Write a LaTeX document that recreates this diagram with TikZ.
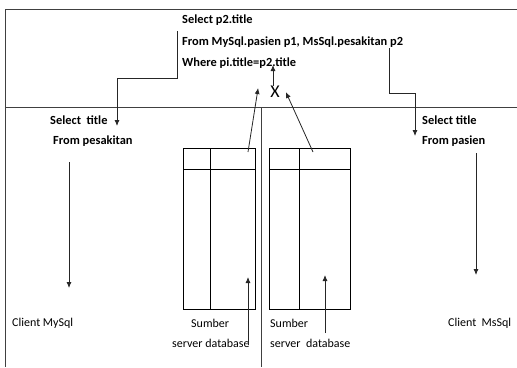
\documentclass[tikz,border=0pt]{standalone}
\usepackage{fontspec}
\setmainfont{Carlito}
\usetikzlibrary{positioning, calc, arrows.meta}
\tikzset{query/.style={font=\fontsize{12.4}{14}\selectfont\bfseries, inner sep=0pt, anchor=west}}
\tikzset{tag/.style={font=\fontsize{12}{14}\selectfont, inner sep=0pt, anchor=west}}
\tikzset{flow/.style={-{Latex[length=6pt,width=5pt]}, line width=0.8pt, black!85}}
\tikzset{frame/.style={line width=0.8pt, black!75}}
\tikzset{table/.style={draw, line width=0.8pt, minimum width=72pt, minimum height=161pt, inner sep=0pt}}

\begin{document}
\begin{tikzpicture}[x=1pt, y=-1pt]
  \useasboundingbox (0,0) rectangle (517,367);

  % frame
  \draw[frame] (517,9) -- (5,9) -- (5,367);
  \draw[frame] (5,107) -- (517,107);
  \draw[frame] (261,107) -- (261,367);

  % global query
  \node[query] (q1) at (182,20) {Select p2.title};
  \node[query] (q2) at (182,42) {From MySql.pasien p1, MsSql.pesakitan p2};
  \node[query] (q3) at (182,63) {Where pi.title=p2.title};
  \node[font=\fontsize{18}{20}\selectfont, inner sep=0pt] (cross) at (275,92) {X};

  % local queries
  \node[query] (lsel) at (50,120) {Select\ \ title};
  \node[query] (lfrom) at (53,141) {From pesakitan};
  \node[query] (rsel) at (422,120) {Select title};
  \node[query] (rfrom) at (422,141) {From pasien};

  % tables
  \node[table, anchor=north west] (tblL) at (183,148) {};
  \node[table, anchor=north west, minimum width=81pt] (tblR) at (269,148) {};
  \draw[line width=0.8pt] ($(tblL.north west)+(0,21)$) -- ($(tblL.north east)+(0,21)$);
  \draw[line width=0.8pt] ($(tblL.north west)+(27,0)$) -- ($(tblL.south west)+(27,0)$);
  \draw[line width=0.8pt] ($(tblR.north west)+(0,21)$) -- ($(tblR.north east)+(0,21)$);
  \draw[line width=0.8pt] ($(tblR.north west)+(30,0)$) -- ($(tblR.south west)+(30,0)$);

  % labels
  \node[tag] (cmy) at (12,323) {Client MySql};
  \node[tag] (cms) at (448,323) {Client\ \ MsSql};
  \node[tag] (s1) at (191,323) {Sumber};
  \node[tag] (d1) at (172,343) {server database};
  \node[tag] (s2) at (270,323) {Sumber};
  \node[tag] (d2) at (270,343) {server\ \ database};

  % arrows
  \coordinate (la) at (177,31);
  \coordinate (lb) at (117,126);
  \draw[flow] (la) -- (177,78) -| (lb);
  \coordinate (ra) at (389,48);
  \coordinate (rb) at (415,136);
  \draw[flow] (ra) -- (389,93) -| (rb);
  \draw[flow] (cross.north) ++(-2,0) -- (273,65);
  \draw[flow] (248,152) -- ($(cross.west)+(-12,-4)$);
  \draw[flow] (313,152) -- ($(cross.east)+(6,0)$);
  \draw[flow] (248,345) -- (248,277);
  \draw[flow] (325,333) -- (325,275);
  \draw[flow] (69,162) -- (69,288);
  \draw[flow] (476,153) -- (476,275);
\end{tikzpicture}
\end{document}
